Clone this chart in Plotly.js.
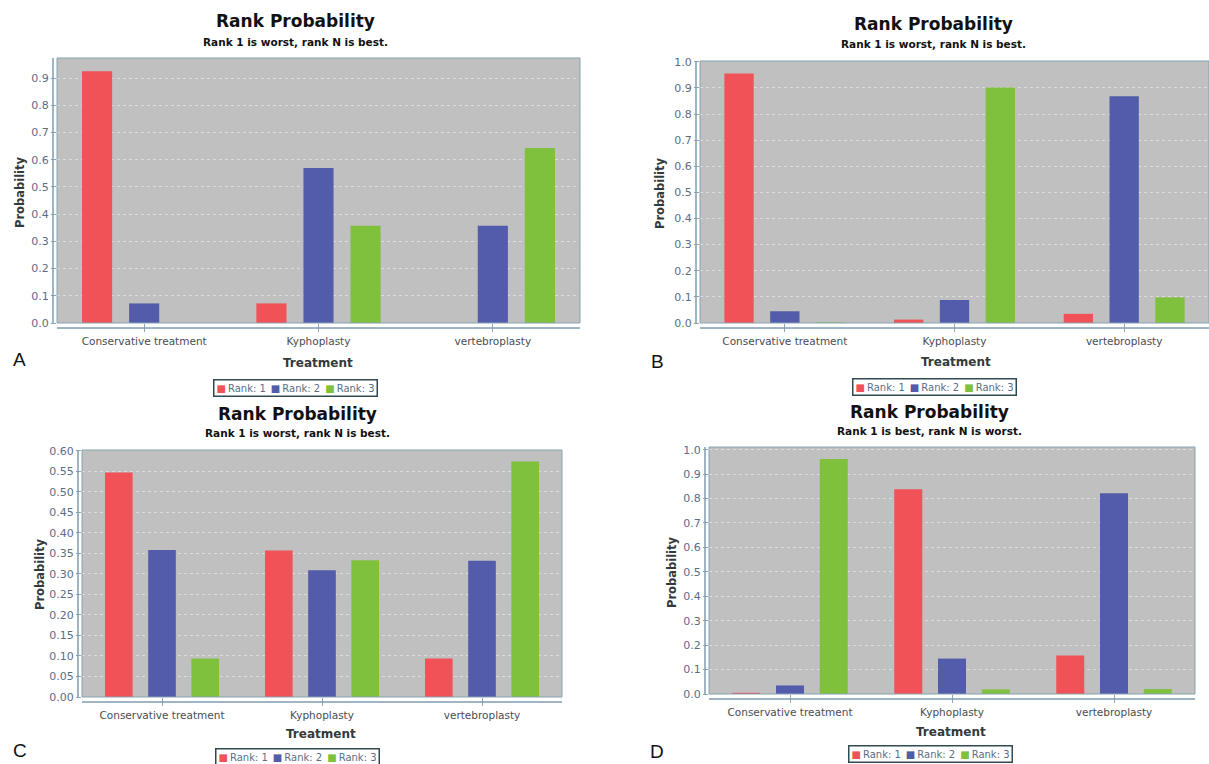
<!DOCTYPE html>
<html>
<head>
<meta charset="utf-8">
<script src="https://cdn.plot.ly/plotly-3.0.1.min.js"></script>
<style>html,body{margin:0;padding:0;background:#fff;}</style>
</head>
<body>
<div id="chart" style="width:1209px;height:764px;"></div>
<script>
// ---------- data ----------
const categories = ["Conservative treatment", "Kyphoplasty", "vertebroplasty"];
const seriesNames = ["Rank: 1", "Rank: 2", "Rank: 3"];

const chartTitle = "Rank Probability";
const subtitleWorstBest = "Rank 1 is worst, rank N is best.";
const subtitleBestWorst = "Rank 1 is best, rank N is worst.";
const xTitle = "Treatment";
const yTitle = "Probability";
const panelLetters = ["A", "B", "C", "D"];

// Panel A
const a_rank1 = [0.925, 0.072, 0.0];
const a_rank2 = [0.072, 0.570, 0.357];
const a_rank3 = [0.0, 0.357, 0.643];
// Panel B
const b_rank1 = [0.955, 0.013, 0.035];
const b_rank2 = [0.045, 0.088, 0.868];
const b_rank3 = [0.002, 0.902, 0.098];
// Panel C
const c_rank1 = [0.547, 0.357, 0.094];
const c_rank2 = [0.358, 0.309, 0.332];
const c_rank3 = [0.094, 0.333, 0.574];
// Panel D
const d_rank1 = [0.005, 0.838, 0.158];
const d_rank2 = [0.035, 0.145, 0.822];
const d_rank3 = [0.962, 0.019, 0.020];

// ---------- style ----------
const seriesColors = ["#f05257", "#525caa", "#7fc03d"];
const W = 1209, H = 764;
const px = v => v / W;
const py = v => 1 - v / H;

const panels = [
  {data: [a_rank1, a_rank2, a_rank3], sub: subtitleWorstBest, L: 57, R: 580, T: 58, B: 323, ymax: 0.974, dtick: 0.1, fmt: ".1f",
   title: [295, 21], subPos: [295, 42], xt: [318, 363], yt: [20, 192], letter: [19, 360], leg: [295, 388]},
  {data: [b_rank1, b_rank2, b_rank3], sub: subtitleWorstBest, L: 700, R: 1209, T: 61, B: 323, ymax: 1.003, dtick: 0.1, fmt: ".1f",
   title: [933, 24], subPos: [933, 44], xt: [956, 362], yt: [660, 193], letter: [657, 361], leg: [934, 387]},
  {data: [c_rank1, c_rank2, c_rank3], sub: subtitleWorstBest, L: 82, R: 562, T: 450, B: 697, ymax: 0.602, dtick: 0.05, fmt: ".2f",
   title: [297, 414], subPos: [297, 433], xt: [321, 734], yt: [40, 574], letter: [20, 750], leg: [297, 757]},
  {data: [d_rank1, d_rank2, d_rank3], sub: subtitleBestWorst, L: 709, R: 1195, T: 447, B: 694, ymax: 1.011, dtick: 0.1, fmt: ".1f",
   title: [929, 412], subPos: [929, 431], xt: [951, 732], yt: [672, 572], letter: [657, 751], leg: [930, 754]}
];

const traces = [];
const layout = {
  width: W, height: H,
  margin: {l: 0, r: 0, t: 0, b: 0},
  paper_bgcolor: "#ffffff",
  plot_bgcolor: "#c0c0c0",
  barmode: "group",
  bargap: 0.19,
  bargroupgap: 0.36,
  showlegend: false,
  annotations: [],
  shapes: []
};

const tickFontFamily = "DejaVu Sans";
panels.forEach((p, i) => {
  const s = i === 0 ? "" : String(i + 1);
  p.data.forEach((vals, k) => {
    traces.push({
      type: "bar", x: categories, y: vals, name: seriesNames[k],
      xaxis: "x" + s, yaxis: "y" + s,
      marker: {color: seriesColors[k], line: {width: 0}},
      showlegend: false, hoverinfo: "x+y+name"
    });
  });
  layout["xaxis" + s] = {
    domain: [px(p.L), px(p.R)], anchor: "y" + s, type: "category",
    range: [-0.5, 2.5], showgrid: false, zeroline: false, showline: false,
    ticks: "outside", ticklen: 8, tickcolor: "#8fa5b5", tickwidth: 1,
    tickfont: {family: tickFontFamily, size: 10.5, color: "#4a4d52"}, fixedrange: true
  };
  layout["yaxis" + s] = {
    domain: [py(p.B), py(p.T)], anchor: "x" + s,
    range: [0, p.ymax], tick0: 0, dtick: p.dtick, tickformat: p.fmt,
    showgrid: true, gridcolor: "#dcdcdc", griddash: "dot", gridwidth: 1,
    zeroline: false, showline: false,
    ticks: "outside", ticklen: 5, tickcolor: "#8fa5b5", tickwidth: 1,
    tickfont: {family: tickFontFamily, size: 11, color: "#5b6d85"}, fixedrange: true
  };
  // plot border
  layout.shapes.push({type: "rect", xref: "x" + s + " domain", yref: "y" + s + " domain",
    x0: 0, x1: 1, y0: 0, y1: 1, line: {color: "#86a3b3", width: 1}, fillcolor: "rgba(0,0,0,0)", layer: "above"});
  // offset axis lines
  layout.shapes.push({type: "line", xref: "paper", yref: "paper",
    x0: px(p.L), x1: px(p.R), y0: py(p.B + 5), y1: py(p.B + 5), line: {color: "#7f9db0", width: 1.5}});
  layout.shapes.push({type: "line", xref: "paper", yref: "paper",
    x0: px(p.L - 4), x1: px(p.L - 4), y0: py(p.T), y1: py(p.B), line: {color: "#7f9db0", width: 1.5}});

  const ann = (text, pos, font, extra) => Object.assign({
    text: text, x: px(pos[0]), y: py(pos[1]), xref: "paper", yref: "paper",
    xanchor: "center", yanchor: "middle", showarrow: false, font: font
  }, extra || {});

  layout.annotations.push(ann("<b>" + chartTitle + "</b>", p.title, {family: "DejaVu Sans", size: 17, color: "#111111"}));
  layout.annotations.push(ann("<b>" + p.sub + "</b>", p.subPos, {family: "DejaVu Sans", size: 10.5, color: "#111111"}));
  layout.annotations.push(ann("<b>" + xTitle + "</b>", p.xt, {family: "DejaVu Sans", size: 12, color: "#333a3c"}));
  layout.annotations.push(ann("<b>" + yTitle + "</b>", p.yt, {family: "DejaVu Sans", size: 11.5, color: "#333a3c"}, {textangle: -90}));
  layout.annotations.push(ann(panelLetters[i], p.letter, {family: "Liberation Sans", size: 19, color: "#111111"}));
  const legText = seriesNames.map((n, k) =>
    '<span style="color:' + seriesColors[k] + '">■</span>\u2009' + n).join("\u2002");
  layout.annotations.push(ann(legText, p.leg, {family: "DejaVu Sans", size: 10, color: "#5b6d85"},
    {bordercolor: "#2f4a50", borderwidth: 1.5, borderpad: 2}));
});

Plotly.newPlot("chart", traces, layout, {displayModeBar: false, staticPlot: true});
</script>
</body>
</html>
